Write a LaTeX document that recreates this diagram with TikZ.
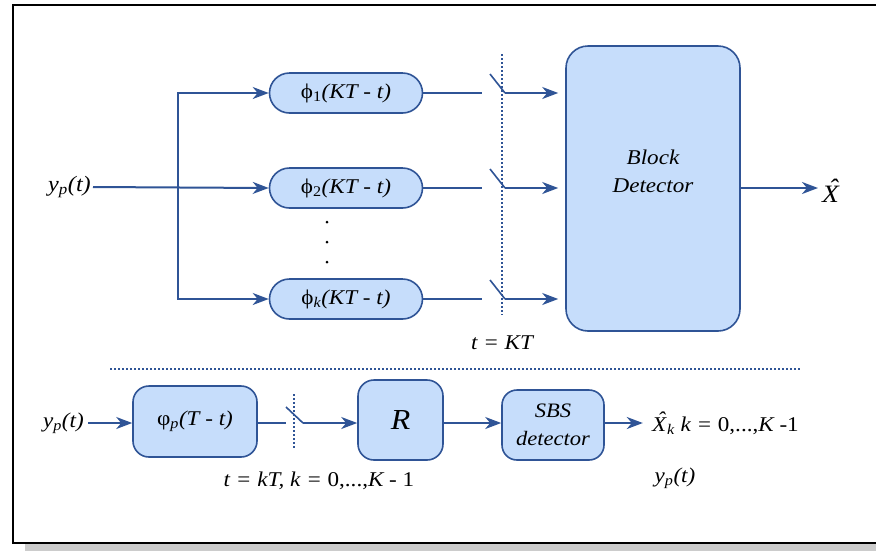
\documentclass[tikz,border=0pt]{standalone}
\usepackage{fontspec}
\setmainfont{Liberation Serif}[FakeStretch=1.1]
\usetikzlibrary{arrows.meta}
\definecolor{boxfill}{RGB}{198,221,251}
\definecolor{lineblue}{RGB}{47,84,150}
\newcommand{\hatX}{X\kern-0.42em\raisebox{0.24em}{ˆ}\kern0.09em}
\newcommand{\up}[1]{{\upshape #1}}
\begin{document}
\begin{tikzpicture}[x=1pt,y=-1pt,
  every node/.style={font=\fontsize{21}{25}\selectfont\itshape, inner sep=0pt},
  box/.style={draw=lineblue, fill=boxfill, line width=1.6pt},
  conn/.style={draw=lineblue, line width=2pt},
  arr/.style={conn, -{Stealth[length=16pt,width=12pt,inset=5pt]}},
  sampler/.style={draw=lineblue, line width=1.3pt, dash pattern=on 2pt off 2pt}]
\useasboundingbox (0,0) rectangle (876,550);
% frame and shadow
\fill[black!20] (25,544) rectangle (880,551);
\draw[line width=1.5pt, fill=white] (13,5) rectangle (880,543);

% ---------- top part ----------
\node[anchor=east, font=\fontsize{22}{25}\selectfont\itshape] (yin) at (91,187) {y\textsubscript{p}(t)};
\node[box, rounded corners=20pt, minimum width=153pt, minimum height=40pt] (p1) at (346,93) {\up{ϕ\textsubscript{1}}(KT - t)};
\node[box, rounded corners=20pt, minimum width=153pt, minimum height=40pt] (p2) at (346,188) {\up{ϕ\textsubscript{2}}(KT - t)};
\node[box, rounded corners=20pt, minimum width=153pt, minimum height=40pt] (pk) at (346,299) {\up{ϕ}\textsubscript{k}(KT - t)};
\foreach \yy in {222,242,262} \fill (327,\yy) circle (1.5pt);

\coordinate (br) at (178,188);
\draw[arr] (yin.east) ++(2,0) -- (p2.west);
\draw[arr] (br) |- (p1.west);
\draw[arr] (br) |- (pk.west);

\node[box, rounded corners=22pt, minimum width=174pt, minimum height=285pt] (bd) at (653,188.5) {};
\node[font=\fontsize{21}{28}\selectfont\itshape, align=center] (bdt) at (bd.center) [yshift=17pt] {Block\\Detector};

\foreach \n/\yy in {p1/93,p2/188,pk/299}{
  \coordinate (a\n) at (482,\yy);
  \coordinate (s\n) at (490,\yy-19);
  \coordinate (e\n) at (505,\yy);
  \draw[conn] (\n.east) -- (a\n);
  \draw[conn, line width=1.6pt] (s\n) -- (e\n);
  \draw[arr, shorten >=7pt] (e\n) -- (e\n -| bd.west);
}
\coordinate (d1) at (502,54);
\coordinate (d2) at (502,315);
\draw[sampler] (d1) -- (d2);
\node (tkt) at (502,343) {t = KT};

\node[anchor=west, font=\fontsize{25}{27}\selectfont\itshape] (xhat) at (822,191) {\hatX};
\draw[arr] (bd.east |- 0,188) -- (818,188);

% separator
\coordinate (sep1) at (110,369);
\coordinate (sep2) at (800,369);
\draw[sampler] (sep1) -- (sep2);

% ---------- bottom part ----------
\node[anchor=east] (yin2) at (84,423) {y\textsubscript{p}(t)};
\node[box, rounded corners=16pt, minimum width=124pt, minimum height=71pt] (pp) at (195,421.5) {\up{φ}\textsubscript{p}(T - t)};
\node[box, rounded corners=16pt, minimum width=85pt, minimum height=80pt, font=\fontsize{29}{30}\selectfont\itshape] (R) at (400.5,420) {R};
\node[box, rounded corners=15pt, minimum width=102pt, minimum height=70pt, align=center, font=\fontsize{20.5}{28}\selectfont\itshape] (sbs) at (553,425) {SBS\\detector};

\draw[arr] (yin2.east) ++(4,0) -- (pp.west |- 0,423);
\coordinate (b1) at (286,423);
\coordinate (b2) at (286,407);
\coordinate (b3) at (303,423);
\draw[conn] (pp.east |- b1) -- (b1);
\draw[conn, line width=1.6pt] (b2) -- (b3);
\draw[arr] (b3) -- (R.west |- b3);
\coordinate (c1) at (294,394);
\coordinate (c2) at (294,448);
\draw[sampler] (c1) -- (c2);
\draw[arr] (R.east |- 0,423) -- (sbs.west |- 0,423);

\node[anchor=west] (xk) at (652,423) {\hatX\textsubscript{k} k = \up{0,...,}K \up{-1}};
\draw[arr] (sbs.east |- 0,423) -- ++(38,0);
\node (yout) at (675,478) {y\textsubscript{p}(t)};
\node (tk) at (319,481) {t = kT, k = \up{0,...,}K - \up{1}};
\end{tikzpicture}
\end{document}
